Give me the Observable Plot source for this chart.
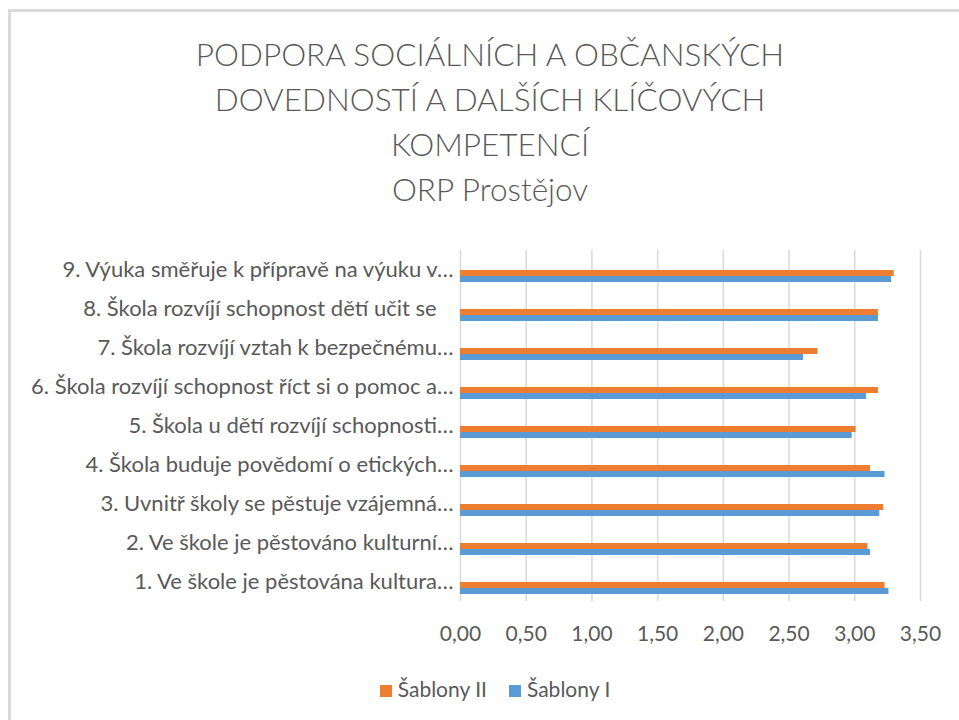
<!DOCTYPE html>
<html>
<head>
<meta charset="utf-8">
<script src="https://cdn.jsdelivr.net/npm/d3@7"></script>
<script src="https://cdn.jsdelivr.net/npm/@observablehq/plot@0.6"></script>
<style>
  html, body { margin: 0; padding: 0; background: #fff; }
  body { width: 959px; height: 720px; position: relative; overflow: hidden; font-family: Lato, "Open Sans", sans-serif; color: #595959; }
  #frame { position: absolute; left: 8px; top: 9px; width: 1000px; height: 1000px; border-left: 3px solid #dadada; border-top: 3px solid #dadada; }
  #title { position: absolute; left: 0; top: 32px; width: 980px; text-align: center; font-size: 31.5px; font-weight: 300; line-height: 45px; color: #595959; }
  #chart { position: absolute; left: 0; top: 236px; }
  #legend { position: absolute; left: 0; top: 676px; width: 990px; text-align: center; font-size: 21px; line-height: 26px; color: #595959; }
  .item { display: inline-block; margin: 0 11px; }
  .sw { display: inline-block; width: 12px; height: 12px; margin-right: 6px; vertical-align: 0px; }
</style>
</head>
<body>
<div id="frame"></div>
<div id="title">PODPORA SOCIÁLNÍCH A OBČANSKÝCH<br>DOVEDNOSTÍ A DALŠÍCH KLÍČOVÝCH<br>KOMPETENCÍ<br>ORP Prostějov</div>
<div id="chart"></div>
<div id="legend"></div>
<script>
const categories = [
  "1. Ve škole je pěstována kultura…",
  "2. Ve škole je pěstováno kulturní…",
  "3. Uvnitř školy se pěstuje vzájemná…",
  "4. Škola buduje povědomí o etických…",
  "5. Škola u dětí rozvíjí schopnosti…",
  "6. Škola rozvíjí schopnost říct si o pomoc a…",
  "7. Škola rozvíjí vztah k bezpečnému…",
  "8. Škola rozvíjí schopnost dětí učit se\u00a0\u00a0\u00a0",
  "9. Výuka směřuje k přípravě na výuku v…"
];
const seriesNames = ["Šablony II", "Šablony I"];
const sablonyII = [3.23, 3.10, 3.22, 3.12, 3.01, 3.18, 2.72, 3.18, 3.30];
const sablonyI  = [3.26, 3.12, 3.19, 3.23, 2.98, 3.09, 2.61, 3.18, 3.28];
const xTicks = [0, 0.5, 1, 1.5, 2, 2.5, 3, 3.5];
const xTickLabels = ["0,00", "0,50", "1,00", "1,50", "2,00", "2,50", "3,00", "3,50"];
const colors = ["#ED7D31", "#5B9BD5"];

const data = [];
categories.forEach((c, i) => {
  data.push({category: c, series: seriesNames[0], value: sablonyII[i]});
  data.push({category: c, series: seriesNames[1], value: sablonyI[i]});
});

const chart = Plot.plot({
  width: 959,
  height: 414,
  marginLeft: 460,
  marginRight: 39,
  marginTop: 10,
  marginBottom: 45,
  style: {fontFamily: "Lato, 'Open Sans', sans-serif", fontSize: "21px", color: "#595959", background: "transparent"},
  x: {domain: [0, 3.5], ticks: xTicks, tickFormat: d => xTickLabels[xTicks.indexOf(d)], tickSize: 0, tickPadding: 25, label: null},
  y: {domain: seriesNames, axis: null, paddingInner: 0, paddingOuter: 2.0, align: 0.75},
  fy: {domain: categories.slice().reverse(), padding: 0, axis: "left", tickSize: 0, tickPadding: 7, label: null},
  color: {domain: seriesNames, range: colors},
  marks: [
    Plot.gridX(xTicks, {stroke: "#d9d9d9", strokeOpacity: 1, strokeWidth: 1.5}),
    Plot.barX(data, {x: "value", y: "series", fy: "category", fill: "series"})
  ]
});
chart.querySelectorAll("[aria-label='fy-axis tick label'] text").forEach(t => t.style.fontSize = "22px");
document.getElementById("chart").appendChild(chart);

const legend = document.getElementById("legend");
seriesNames.forEach((s, i) => {
  const item = document.createElement("span");
  item.className = "item";
  const sw = document.createElement("span");
  sw.className = "sw";
  sw.style.background = colors[i];
  item.appendChild(sw);
  item.appendChild(document.createTextNode(s));
  legend.appendChild(item);
});
</script>
</body>
</html>
